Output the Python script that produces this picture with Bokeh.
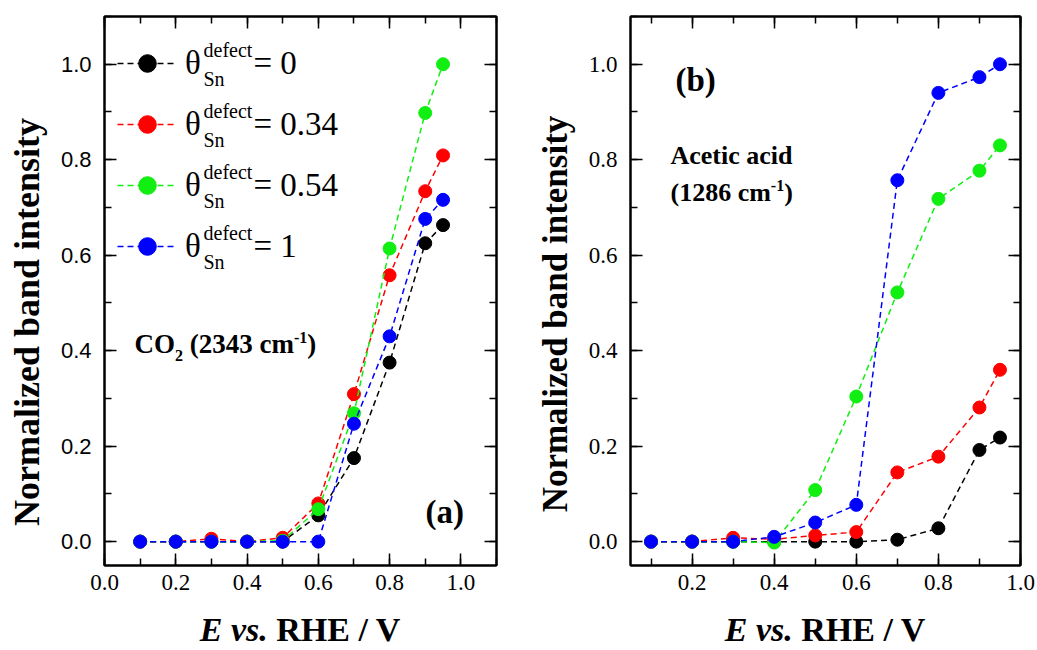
import math
from bokeh.plotting import figure
from bokeh.layouts import row, column
from bokeh.models import (ColumnDataSource, LinearAxis, SingleIntervalTicker, Range1d,
                          PrintfTickFormatter, CustomJSTickFormatter, Legend, LegendItem,
                          Label, Div)
from bokeh.core.properties import value
from bokeh.embed import file_html
from bokeh.resources import INLINE

# ---------------- data ----------------
E = [0.1, 0.2, 0.3, 0.4, 0.5, 0.6, 0.7, 0.8, 0.9, 0.95]
theta_values = ["0", "0.34", "0.54", "1"]
colors = ["#000000", "#ff0000", "#11ee11", "#0000ff"]

co2_0 = [0, 0, 0, 0, 0, 0.055, 0.175, 0.375, 0.625, 0.663]
co2_034 = [0, 0, 0.006, 0, 0.008, 0.080, 0.309, 0.558, 0.734, 0.809]
co2_054 = [0, 0, 0, 0, 0.002, 0.068, 0.269, 0.614, 0.898, 1.0]
co2_1 = [0, 0, 0, 0, 0, 0, 0.247, 0.430, 0.676, 0.716]

ac_0 = [0, 0, 0, 0, 0, 0, 0.004, 0.028, 0.192, 0.218]
ac_034 = [0, 0, 0.008, 0.005, 0.013, 0.020, 0.145, 0.178, 0.281, 0.360]
ac_054 = [0, 0, 0, -0.002, 0.108, 0.304, 0.522, 0.718, 0.777, 0.830]
ac_1 = [0, 0, 0, 0.010, 0.040, 0.077, 0.757, 0.940, 0.973, 1.0]

y_label = "Normalized band intensity"
x_label_italic = "E vs."
x_label_rest = "RHE / V"

SERIF = "Liberation Serif"
SANS = "Liberation Sans"
FIG_H = 612
BOTTOM = 47

# approximate glyph widths (Times New Roman metrics, em units)
W_REG = {" ": .25, ".": .25, "=": .564, "d": .5, "e": .444, "f": .333, "c": .444,
         "t": .278, "S": .556, "n": .5, "-": .333, "(": .333, ")": .333}
W_BOLD = {" ": .25, ".": .25, "(": .333, ")": .333, "-": .333, "C": .722, "O": .778,
          "A": .722, "c": .444, "e": .444, "t": .333, "i": .278, "a": .5, "d": .556,
          "m": .833, "b": .556}
RAISE = 0.32   # empirical baseline correction (fraction of font size)


def text_width(s, style, size):
    table = W_BOLD if "bold" in style else W_REG
    return sum(table.get(ch, 0.5) for ch in s) * size


def put_pieces(p, x0, y0, pieces):
    x = x0
    for text, size, dy, style in pieces:
        lead = len(text) - len(text.lstrip(" "))
        x += text_width(" " * lead, style, size)
        t = text.lstrip(" ")
        p.add_layout(Label(x=x, y=y0 + dy + RAISE * size, x_units="screen", y_units="screen",
                           text=t, text_font=SERIF, text_font_size=f"{size}px",
                           text_font_style=style, text_baseline="alphabetic",
                           text_align="left", text_color="black"))
        x += text_width(t, style, size)


def make_fig(width, xr, border_left, border_right, ytick_font, xtick_font):
    p = figure(width=width, height=FIG_H, output_backend="svg", toolbar_location=None,
               x_range=Range1d(*xr), y_range=Range1d(-0.05, 1.1),
               min_border_left=border_left, min_border_right=border_right,
               min_border_top=16, min_border_bottom=BOTTOM,
               background_fill_color="white", border_fill_color="white")
    p.xgrid.visible = False
    p.ygrid.visible = False
    p.outline_line_color = "black"
    p.outline_line_width = 2
    p.xaxis.ticker = SingleIntervalTicker(interval=0.2, num_minor_ticks=2)
    p.yaxis.ticker = SingleIntervalTicker(interval=0.2, num_minor_ticks=2)
    p.xaxis.formatter = PrintfTickFormatter(format="%.1f")
    p.yaxis.formatter = PrintfTickFormatter(format="%.1f")
    for ax, font in ((p.xaxis, xtick_font), (p.yaxis, ytick_font)):
        ax.axis_line_width = 2
        ax.major_tick_line_width = 1.5
        ax.minor_tick_line_width = 1.5
        ax.major_tick_in = 12
        ax.major_tick_out = 0
        ax.minor_tick_in = 7
        ax.minor_tick_out = 0
        ax.major_label_text_font = font
        ax.major_label_text_font_size = "23px" if font == SERIF else "22px"
        ax.major_label_text_color = "black"
    p.xaxis.major_label_standoff = 9
    p.yaxis.major_label_standoff = 13
    for loc in ("above", "right"):
        ax = LinearAxis(ticker=SingleIntervalTicker(interval=0.2, num_minor_ticks=2),
                        formatter=CustomJSTickFormatter(code="return ''"),
                        major_label_text_font_size="0px", major_label_standoff=0,
                        axis_line_width=2, major_tick_line_width=1.5, minor_tick_line_width=1.5,
                        major_tick_in=12, major_tick_out=0, minor_tick_in=7, minor_tick_out=0)
        p.add_layout(ax, loc)
    return p


def add_series(p, ys_list):
    rends = []
    for ys, c in zip(ys_list, colors):
        src = ColumnDataSource(dict(x=E, y=ys))
        l = p.line("x", "y", source=src, line_color=c, line_width=1.5, line_dash="6 4")
        s = p.scatter("x", "y", source=src, size=13, fill_color=c, line_color=c,
                      line_width=1)
        rends.append((l, s))
    return rends


def ylabel_div(width, xc, yc, size):
    html = ('<div style="position:relative;width:{w}px;height:{h}px;">'
            '<span style="position:absolute;left:{x}px;top:{y}px;'
            'transform:translate(-50%,-50%) rotate(-90deg);white-space:nowrap;'
            'font-family:\'Liberation Serif\';font-size:{s}px;line-height:{s}px;'
            'font-weight:bold;color:black">{t}</span></div>').format(
        w=width, h=FIG_H, x=xc, y=yc, s=size, t=y_label)
    return Div(text=html, width=width, height=FIG_H, margin=0)


# ---------------- panel (a) ----------------
pa = make_fig(470, (0.0, 1.1), 54, 24, SANS, SERIF)
rends_a = add_series(pa, [co2_0, co2_034, co2_054, co2_1])

FRAME_H = FIG_H - 16 - BOTTOM   # 549
ROW0 = 47
PITCH = 61
GH = 44
legend = Legend(items=[LegendItem(label=value("θ"), renderers=list(r)) for r in rends_a],
                location=(13, FRAME_H - ROW0 + GH / 2 - (4 * GH + 3 * (PITCH - GH))),
                margin=0, padding=0, spacing=PITCH - GH, glyph_width=60, glyph_height=GH,
                label_height=GH, label_standoff=8, label_text_font=SERIF,
                label_text_font_size="33px", label_text_color="black",
                border_line_color=None, background_fill_alpha=0)
pa.add_layout(legend)

for i, tv in enumerate(theta_values):
    cy = FRAME_H - ROW0 - PITCH * i
    put_pieces(pa, 99, cy + 7.5, [("defect", 20, 0, "normal")])
    put_pieces(pa, 99, cy - 22, [("Sn", 20, 0, "normal")])
    put_pieces(pa, 149, cy - 10, [("= " + tv, 33, 0, "normal")])

put_pieces(pa, 30, 565 - 352.5, [("CO", 27, 0, "bold"), ("2", 16, -8, "bold"),
                                  (" (2343 cm", 27, 0, "bold"), ("-1", 16, 10, "bold"),
                                  (")", 27, 0, "bold")])
put_pieces(pa, 321, 565 - 522.5, [("(a)", 33, 0, "bold")])

# ---------------- panel (b) ----------------
pb = make_fig(457, (0.05, 1.0), 50, 17, SERIF, SERIF)
add_series(pb, [ac_0, ac_034, ac_054, ac_1])
put_pieces(pb, 45, 565 - 90.5, [("(b)", 33, 0, "bold")])
put_pieces(pb, 40, 565 - 163.3, [("Acetic acid", 26, 0, "bold")])
put_pieces(pb, 40, 565 - 200, [("(1286 cm", 26, 0, "bold"), ("-1", 16, 10, "bold"),
                                (")", 26, 0, "bold")])

# ---------------- axis titles ----------------
ydiv_a = ylabel_div(50, 26.5, 321.5, 36)
ydiv_b = ylabel_div(60, 34.5, 314, 35)

span = ('<span style="position:absolute;left:{c}px;top:3px;transform:translateX(-50%);'
        'white-space:nowrap"><i>{a}</i> {b}</span>')
html = ('<div style="position:relative;width:1037px;height:38px;font-family:\'Liberation Serif\';'
        'font-size:34px;line-height:30px;font-weight:bold;color:black">'
        + span.format(c=300, a=x_label_italic, b=x_label_rest)
        + span.format(c=825, a=x_label_italic, b=x_label_rest)
        + '</div>')
xdiv = Div(text=html, width=1037, height=38, margin=0)

layout = column(row(ydiv_a, pa, ydiv_b, pb), xdiv)
open("out.html", "w").write(file_html(layout, INLINE))
